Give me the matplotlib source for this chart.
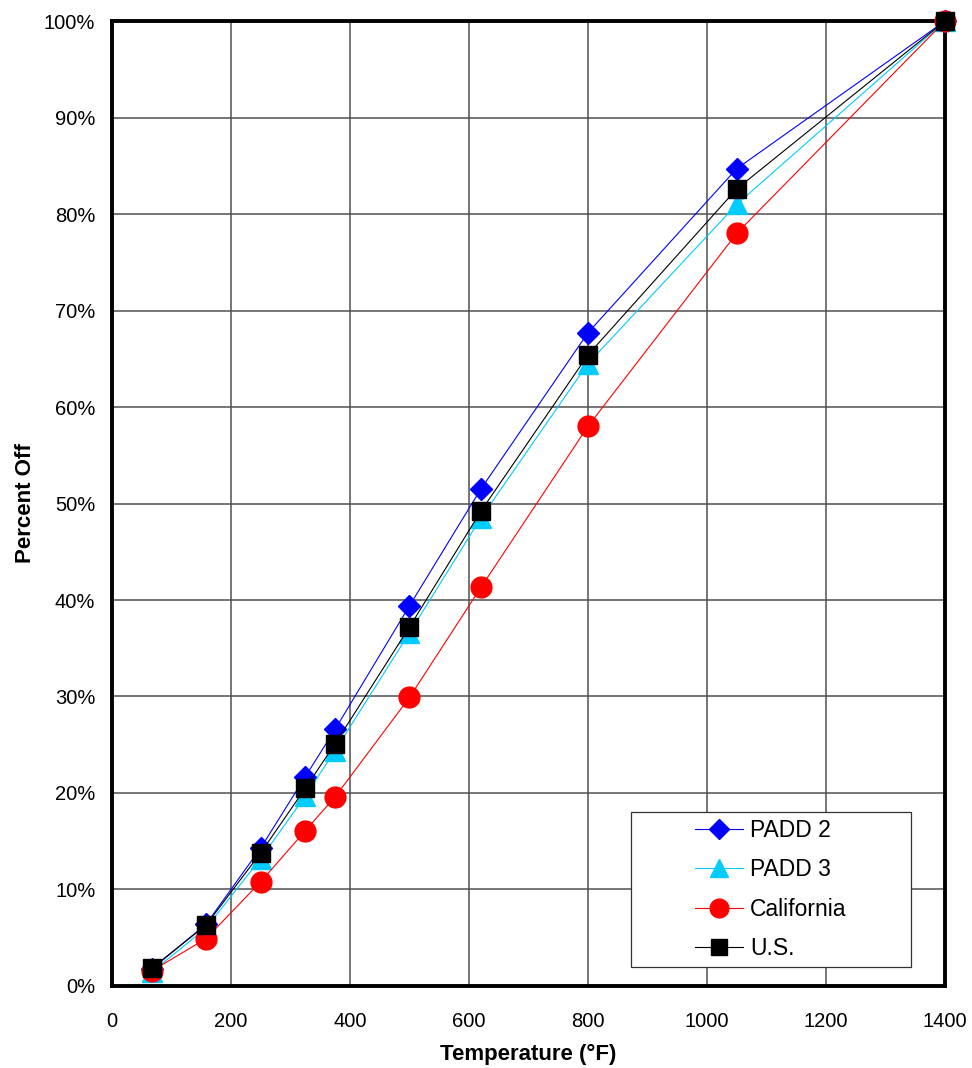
import numpy as np
import matplotlib.pyplot as plt
from matplotlib.patches import Rectangle
from matplotlib.ticker import PercentFormatter

temps = [68, 158, 250, 325, 375, 500, 620, 800, 1050, 1400]
padd2 = [1.8, 6.4, 14.3, 21.7, 26.6, 39.4, 51.5, 67.7, 84.7, 100]
padd3 = [1.5, 6.0, 13.2, 19.7, 24.4, 36.6, 48.5, 64.5, 81.0, 100]
california = [1.6, 4.9, 10.8, 16.1, 19.6, 29.9, 41.3, 58.0, 78.0, 100]
us = [1.9, 6.3, 13.8, 20.5, 25.1, 37.2, 49.2, 65.4, 82.6, 100]

plt.rcParams['font.family'] = ['Liberation Sans', 'DejaVu Sans']

fig = plt.figure(figsize=(9.72, 10.68), dpi=100)
ax = fig.add_axes([0.1152, 0.0768, 0.857, 0.9035])

ax.plot(temps, padd2, "-D", color="#0000ff", lw=0.8, ms=11.5, label="PADD 2", clip_on=False, zorder=7)
ax.plot(temps, padd3, "-^", color="#00ccff", lw=0.8, ms=14, label="PADD 3", clip_on=False, zorder=7)
ax.plot(temps, california, "-o", color="#ff0000", lw=0.8, ms=15, label="California", clip_on=False, zorder=7)
ax.plot(temps, us, "-s", color="#000000", lw=0.8, ms=13.5, label="U.S.", clip_on=False, zorder=7)

ax.set_xlim(0, 1400)
ax.set_ylim(0, 100)
ax.set_xticks(np.arange(0, 1401, 200))
ax.set_yticks(np.arange(0, 101, 10))
ax.yaxis.set_major_formatter(PercentFormatter(decimals=0))
ax.tick_params(labelsize=14.5, length=0)
ax.tick_params(axis="x", pad=19)
ax.tick_params(axis="y", pad=12)
ax.grid(True, color="#505050", lw=1.1)
for s in ax.spines.values():
    s.set_linewidth(2.8)
    s.set_zorder(5)

ax.set_xlabel("Temperature (°F)", fontsize=16, fontweight="bold", labelpad=9)
ax.set_ylabel("Percent Off", fontsize=16, fontweight="bold", labelpad=6)

# legend frame drawn separately, legend entries centred inside it
box = (0.623, 0.0197, 0.336, 0.161)
ax.add_patch(Rectangle(box[:2], box[2], box[3], transform=ax.transAxes,
                       facecolor="white", edgecolor="#333333", lw=0.9, zorder=8))
leg = ax.legend(loc="center", bbox_to_anchor=box, frameon=False, fontsize=16.5,
                borderpad=0.2, labelspacing=0.72, handlelength=2.1, handletextpad=0.3,
                markerscale=0.9)
leg.set_zorder(9)

plt.savefig("out.png", dpi=100)
